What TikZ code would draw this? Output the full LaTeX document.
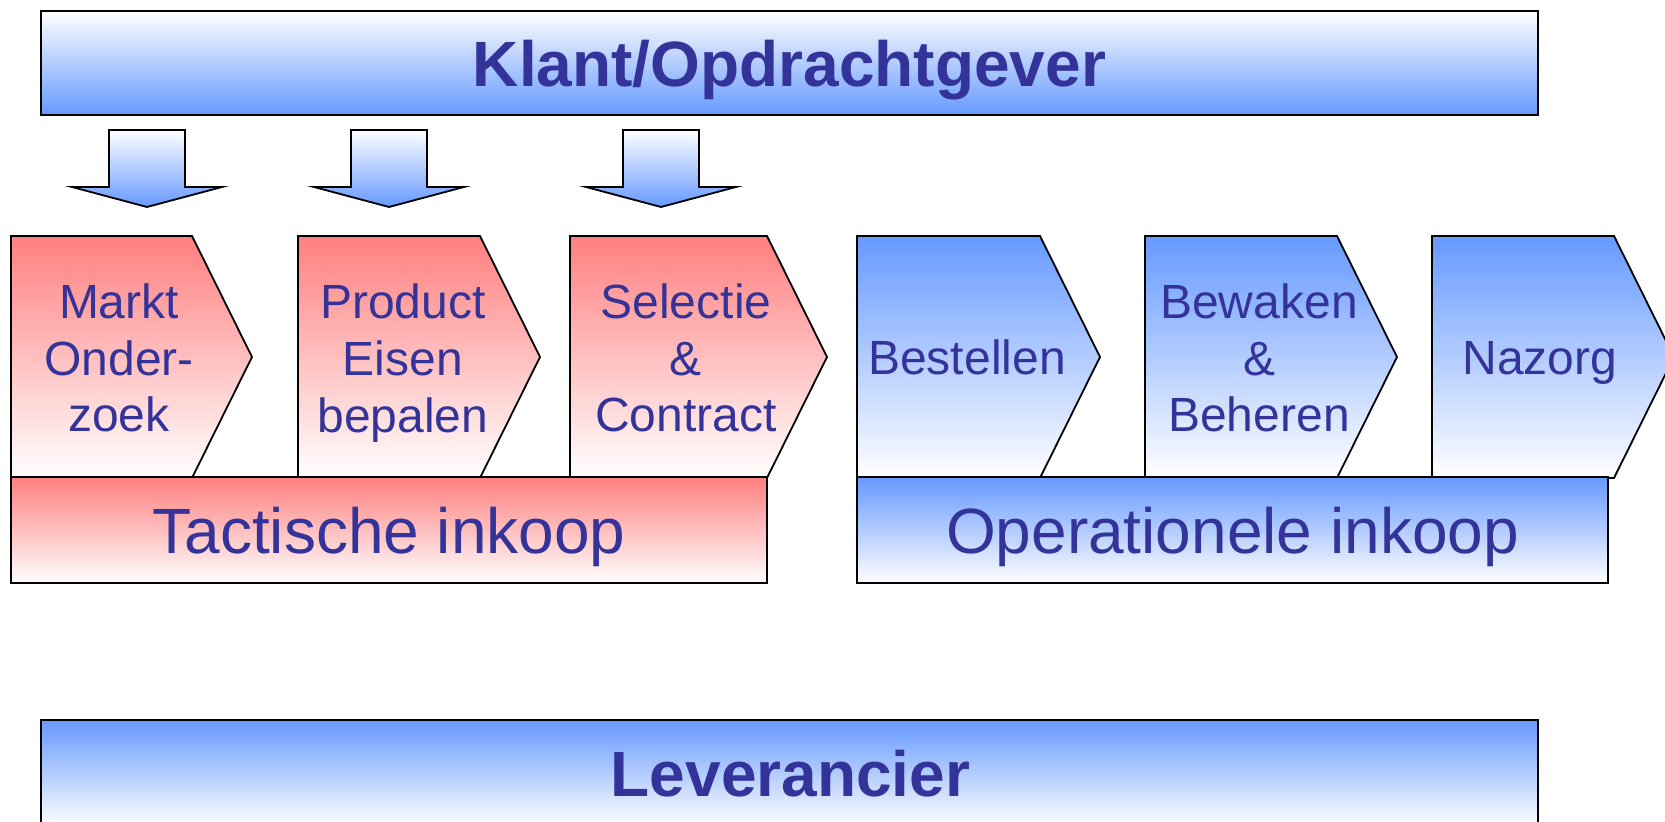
\documentclass[tikz,border=0pt]{standalone}
\usepackage{fontspec}
\setmainfont{Liberation Sans}
\usepackage{tikz}
\definecolor{txtblue}{HTML}{333399}
\definecolor{fillblue}{HTML}{6699FF}
\definecolor{fillred}{HTML}{FF7F7F}

\begin{document}
\begin{tikzpicture}[x=0.5pt,y=0.5pt,yscale=-1,xscale=1,
  lbl/.style={text=txtblue, inner sep=0pt, align=center},
  steplbl/.style={lbl, font=\fontsize{24}{28.35}\selectfont},
  barlbl/.style={lbl, font=\fontsize{32}{38}\selectfont},
  headlbl/.style={lbl, font=\bfseries\fontsize{32}{38}\selectfont},
  outline/.style={draw=black, line width=0.9pt, line join=miter},
  whiteblue/.style={outline, top color=white, bottom color=fillblue},
  bluewhite/.style={outline, top color=fillblue, bottom color=white},
  redwhite/.style={outline, top color=fillred, bottom color=white}]
\clip (0,0) rectangle (1665,822);
\fill[white] (0,0) rectangle (1665,822);

%Shape: Rectangle [id:klantbar]
\path [whiteblue] (41,11) rectangle (1538,115);
% Text Node
\node [headlbl, anchor=base] (klant) at (789.5,86.5) {Klant/Opdrachtgever};

%Shape: Down Arrow [id:pijl1]
\path [whiteblue] (109,130) -- (185,130) -- (185,187) -- (222,187) -- (147,207) -- (72,187) -- (109,187) -- cycle ;
%Shape: Down Arrow [id:pijl2]
\path [whiteblue] (351,130) -- (427,130) -- (427,187) -- (464,187) -- (389,207) -- (314,187) -- (351,187) -- cycle ;
%Shape: Down Arrow [id:pijl3]
\path [whiteblue] (623,130) -- (699,130) -- (699,187) -- (736,187) -- (661,207) -- (586,187) -- (623,187) -- cycle ;

%Shape: Chevron [id:markt]
\path [redwhite] (11,236) -- (192,236) -- (252,357) -- (192,478) -- (11,478) -- cycle ;
%Shape: Chevron [id:product]
\path [redwhite] (298,236) -- (480,236) -- (540,357) -- (480,478) -- (298,478) -- cycle ;
%Shape: Chevron [id:selectie]
\path [redwhite] (570,236) -- (767,236) -- (827,357) -- (767,478) -- (570,478) -- cycle ;
%Shape: Chevron [id:bestellen]
\path [bluewhite] (857,236) -- (1040,236) -- (1100,357) -- (1040,478) -- (857,478) -- cycle ;
%Shape: Chevron [id:bewaken]
\path [bluewhite] (1145,236) -- (1337,236) -- (1397,357) -- (1337,478) -- (1145,478) -- cycle ;
%Shape: Chevron [id:nazorg]
\path [bluewhite] (1432,236) -- (1614,236) -- (1674,357) -- (1614,478) -- (1432,478) -- cycle ;

% Text Node
\node [steplbl] (markt) at (119,358) {Markt\\Onder-\\zoek};
% Text Node
\node [steplbl] (product) at (403,363) {Product\\Eisen\\bepalen};
% Text Node
\node [steplbl] (selectie) at (686,358) {Selectie\\\&\\Contract};
% Text Node
\node [steplbl, anchor=base] (bestellen) at (967,375) {Bestellen};
% Text Node
\node [steplbl] (bewaken) at (1259,358) {Bewaken\\\&\\Beheren};
% Text Node
\node [steplbl, anchor=base] (nazorg) at (1540,375) {Nazorg};

%Shape: Rectangle [id:tactisch]
\path [redwhite] (11,477) rectangle (767,583);
% Text Node
\node [barlbl, anchor=base] (tactisch) at (389,553.3) {Tactische inkoop};
%Shape: Rectangle [id:operationeel]
\path [bluewhite] (857,477) rectangle (1608,583);
% Text Node
\node [barlbl, anchor=base] (operationeel) at (1232.5,553.3) {Operationele inkoop};

%Shape: Rectangle [id:leverancierbar]
\path [bluewhite] (41,720) rectangle (1538,826);
% Text Node
\node [headlbl, anchor=base] (leverancier) at (790.5,796.7) {Leverancier};

\end{tikzpicture}
\end{document}
